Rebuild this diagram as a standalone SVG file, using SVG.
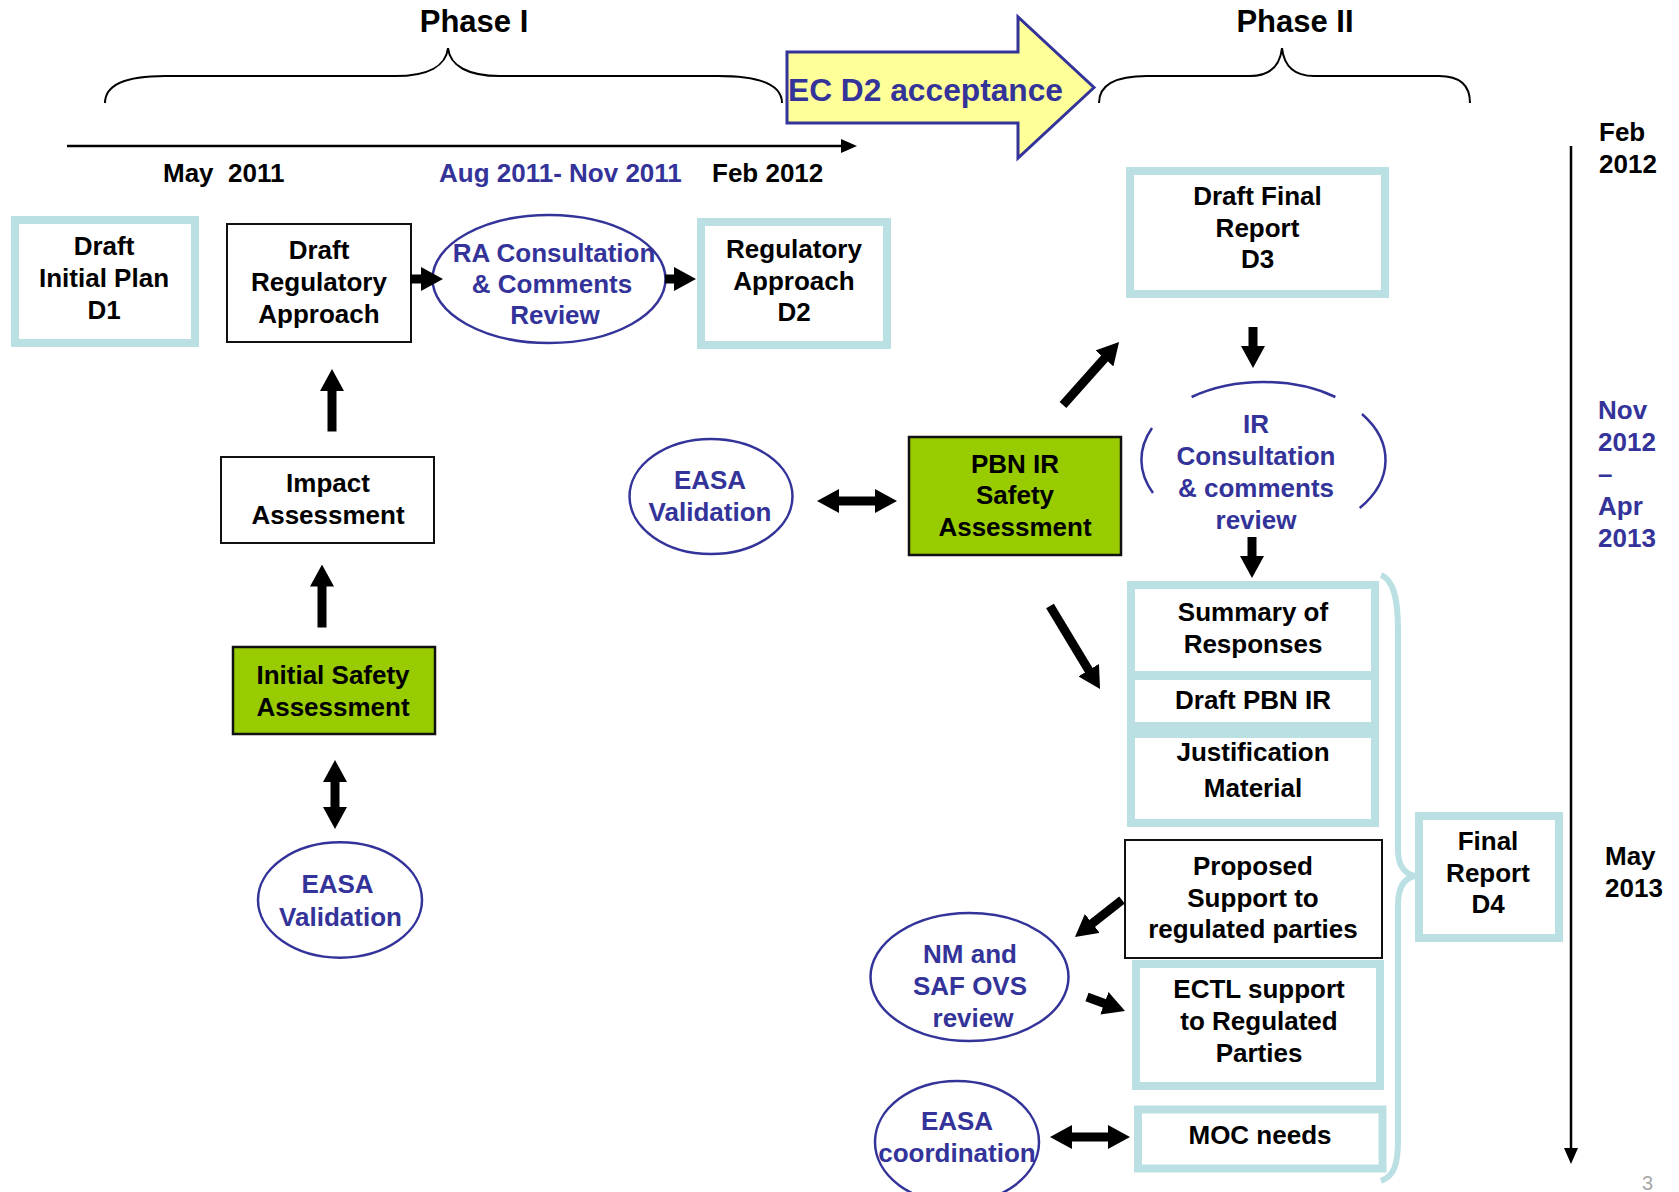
<svg xmlns="http://www.w3.org/2000/svg" width="1679" height="1192" viewBox="0 0 1679 1192">
<style>
text{font-family:"Liberation Sans",Arial,sans-serif;font-weight:bold;font-size:26px;fill:#000}
.c{text-anchor:middle}
.blue{fill:#333399}
.lb{fill:#fff;stroke:#BBE0E3;stroke-width:8}
.bk{fill:#fff;stroke:#111;stroke-width:2}
.gr{fill:#99CC00;stroke:#111;stroke-width:2.5}
.el{fill:#fff;stroke:#333399;stroke-width:2.5}
.arc{fill:none;stroke:#333399;stroke-width:2.5}
.blk{stroke:#000;stroke-width:9;fill:none}
.thin{stroke:#000;stroke-width:2.5;fill:none}
.brace{fill:none;stroke:#000;stroke-width:2}
</style>
<defs>
<marker id="ah" viewBox="0 0 22 24" markerWidth="22" markerHeight="24" markerUnits="userSpaceOnUse" refX="1" refY="12" orient="auto-start-reverse"><path d="M0,0 L22,12 L0,24 z" fill="#000"/></marker>
<marker id="th" viewBox="0 0 16 14" markerWidth="16" markerHeight="14" markerUnits="userSpaceOnUse" refX="1" refY="7" orient="auto"><path d="M0,0 L16,7 L0,14 z" fill="#000"/></marker>
</defs>
<rect width="1679" height="1192" fill="#fff"/>

<g id="phases">
<text class="c" x="474" y="32" style="font-size:31px">Phase I</text>
<path class="brace" d="M105,103 C105,85 125,76 165,76 L395,76 C428,76 446,66 448,48 C450,66 468,76 500,76 L718,76 C760,76 782,85 782,103"/>
<text class="c" x="1295" y="32" style="font-size:31px">Phase II</text>
<path class="brace" d="M1099,103 C1099,85 1115,76 1147,76 L1250,76 C1270,76 1280,66 1282,48 C1284,66 1294,76 1314,76 L1439,76 C1460,76 1470,85 1470,103"/>
</g>

<g id="ec-d2-acceptance">
<polygon points="787,52 1018,52 1018,17 1094,87.5 1018,158 1018,123 787,123" fill="#FFFF99" stroke="#333399" stroke-width="3"/>
<text class="blue" x="788" y="101" style="font-size:31px" textLength="275" lengthAdjust="spacingAndGlyphs">EC D2 acceptance</text>
</g>

<g id="timeline">
<line class="thin" x1="67" y1="146" x2="842" y2="146" marker-end="url(#th)"/>
<text x="163" y="182" xml:space="preserve">May  2011</text>
<text class="blue" x="439" y="182">Aug 2011- Nov 2011</text>
<text x="712" y="182">Feb 2012</text>
<line class="thin" x1="1571" y1="146" x2="1571" y2="1149" marker-end="url(#th)"/>
<text x="1599" y="141">Feb</text>
<text x="1599" y="173">2012</text>
<text class="blue" x="1598" y="419">Nov</text>
<text class="blue" x="1598" y="451">2012</text>
<text class="blue" x="1598" y="483">–</text>
<text class="blue" x="1598" y="515">Apr</text>
<text class="blue" x="1598" y="547">2013</text>
<text x="1605" y="865">May</text>
<text x="1605" y="897">2013</text>
<text x="1642" y="1190" style="font-weight:normal;font-size:20px;fill:#A6A6A6">3</text>
</g>

<g id="d1">
<rect class="lb" x="15" y="220" width="180" height="123"/>
<text class="c" x="104" y="255">Draft</text>
<text class="c" x="104" y="287">Initial Plan</text>
<text class="c" x="104" y="319">D1</text>
</g>

<g id="draft-regulatory-approach">
<rect class="bk" x="227" y="224" width="184" height="118"/>
<text class="c" x="319" y="259">Draft</text>
<text class="c" x="319" y="291">Regulatory</text>
<text class="c" x="319" y="323">Approach</text>
</g>

<g id="ra-consultation">
<ellipse class="el" cx="549" cy="279" rx="116.5" ry="64"/>
<text class="c blue" x="554" y="262">RA Consultation</text>
<text class="c blue" x="552" y="293">&amp; Comments</text>
<text class="c blue" x="555" y="324">Review</text>
</g>

<g id="d2">
<rect class="lb" x="701" y="222" width="186" height="123"/>
<text class="c" x="794" y="258">Regulatory</text>
<text class="c" x="794" y="290">Approach</text>
<text class="c" x="794" y="321">D2</text>
</g>

<g id="impact-assessment">
<rect class="bk" x="221" y="457" width="213" height="86"/>
<text class="c" x="328" y="492">Impact</text>
<text class="c" x="328" y="524">Assessment</text>
</g>

<g id="initial-safety-assessment">
<rect class="gr" x="233" y="647" width="202" height="87"/>
<text class="c" x="333" y="684">Initial Safety</text>
<text class="c" x="333" y="716">Assessment</text>
</g>

<g id="easa-validation-1">
<ellipse class="el" cx="340" cy="900" rx="82" ry="57.7"/>
<text class="c blue" x="337.5" y="893">EASA</text>
<text class="c blue" x="340.5" y="926">Validation</text>
</g>

<g id="easa-validation-2">
<ellipse class="el" cx="711" cy="496.5" rx="81.5" ry="57.5"/>
<text class="c blue" x="710" y="489">EASA</text>
<text class="c blue" x="710" y="521">Validation</text>
</g>

<g id="pbn-ir-safety-assessment">
<rect class="gr" x="909" y="437" width="212" height="118"/>
<text class="c" x="1015" y="473">PBN IR</text>
<text class="c" x="1015" y="504">Safety</text>
<text class="c" x="1015" y="536">Assessment</text>
</g>

<g id="d3">
<rect class="lb" x="1130" y="171" width="255" height="123"/>
<text class="c" x="1257.5" y="205">Draft Final</text>
<text class="c" x="1257.5" y="237">Report</text>
<text class="c" x="1257.5" y="268">D3</text>
</g>

<g id="ir-consultation">
<path class="arc" d="M1191.6,397 A122,78 0 0 1 1335.4,397"/>
<path class="arc" d="M1152,428 A122,78 0 0 0 1153,493"/>
<path class="arc" d="M1362,414 A122,78 0 0 1 1359.7,508"/>
<text class="c blue" x="1256" y="433">IR</text>
<text class="c blue" x="1256" y="465">Consultation</text>
<text class="c blue" x="1256" y="497">&amp; comments</text>
<text class="c blue" x="1256" y="529">review</text>
</g>

<g id="summary-of-responses">
<rect class="lb" x="1131" y="585" width="244" height="90"/>
<text class="c" x="1253" y="621">Summary of</text>
<text class="c" x="1253" y="653">Responses</text>
</g>

<g id="draft-pbn-ir">
<rect class="lb" x="1131" y="676" width="244" height="50"/>
<text class="c" x="1253" y="709">Draft PBN IR</text>
</g>

<g id="justification-material">
<rect class="lb" x="1131" y="734" width="244" height="89"/>
<text class="c" x="1253" y="761">Justification</text>
<text class="c" x="1253" y="797">Material</text>
</g>

<g id="proposed-support">
<rect class="bk" x="1125" y="840" width="257" height="118"/>
<text class="c" x="1253" y="875">Proposed</text>
<text class="c" x="1253" y="907">Support to</text>
<text class="c" x="1253" y="938">regulated parties</text>
</g>

<g id="ectl-support">
<rect class="lb" x="1136" y="964" width="244" height="122"/>
<text class="c" x="1259" y="998">ECTL support</text>
<text class="c" x="1259" y="1030">to Regulated</text>
<text class="c" x="1259" y="1062">Parties</text>
</g>

<g id="moc-needs">
<rect class="lb" x="1138" y="1109.5" width="244.5" height="59"/>
<text class="c" x="1260" y="1144">MOC needs</text>
</g>

<g id="nm-saf-ovs-review">
<ellipse class="el" cx="969.5" cy="977" rx="99" ry="64"/>
<text class="c blue" x="970" y="963">NM and</text>
<text class="c blue" x="970" y="995">SAF OVS</text>
<text class="c blue" x="973" y="1027">review</text>
</g>

<g id="easa-coordination">
<ellipse class="el" cx="957" cy="1142" rx="82" ry="61"/>
<text class="c blue" x="957" y="1130">EASA</text>
<text class="c blue" x="957" y="1162">coordination</text>
</g>

<g id="d4">
<path d="M1381,575 C1394,580 1398,600 1398,630 L1398,850 C1398,866 1405,874 1415,876 C1405,878 1398,886 1398,905 L1398,1140 C1398,1165 1394,1176 1381,1181" fill="none" stroke="#BBE0E3" stroke-width="6"/>
<rect class="lb" x="1419" y="816" width="140" height="122"/>
<text class="c" x="1488" y="850">Final</text>
<text class="c" x="1488" y="882">Report</text>
<text class="c" x="1488" y="913">D4</text>
</g>

<g id="connectors">
<line class="blk" x1="410" y1="279" x2="422" y2="279" marker-end="url(#ah)"/>
<line class="blk" x1="665" y1="279" x2="675" y2="279" marker-end="url(#ah)"/>
<line class="blk" x1="332" y1="431.5" x2="332" y2="390" marker-end="url(#ah)"/>
<line class="blk" x1="322" y1="627.5" x2="322" y2="585.5" marker-end="url(#ah)"/>
<line class="blk" x1="335" y1="781" x2="335" y2="808" marker-start="url(#ah)" marker-end="url(#ah)"/>
<line class="blk" x1="1253" y1="327" x2="1253" y2="347" marker-end="url(#ah)"/>
<line class="blk" x1="1252" y1="537" x2="1252" y2="557" marker-end="url(#ah)"/>
<line class="blk" x1="838" y1="501" x2="876" y2="501" marker-start="url(#ah)" marker-end="url(#ah)"/>
<line class="blk" x1="1063" y1="405" x2="1105.1" y2="357.7" marker-end="url(#ah)"/>
<line class="blk" x1="1050" y1="606" x2="1089.2" y2="671" marker-end="url(#ah)"/>
<line class="blk" x1="1122" y1="900" x2="1091.5" y2="924" marker-end="url(#ah)"/>
<line class="blk" x1="1087" y1="997" x2="1105.3" y2="1003.7" marker-end="url(#ah)"/>
<line class="blk" x1="1071" y1="1137" x2="1109" y2="1137" marker-start="url(#ah)" marker-end="url(#ah)"/>
</g>
</svg>
